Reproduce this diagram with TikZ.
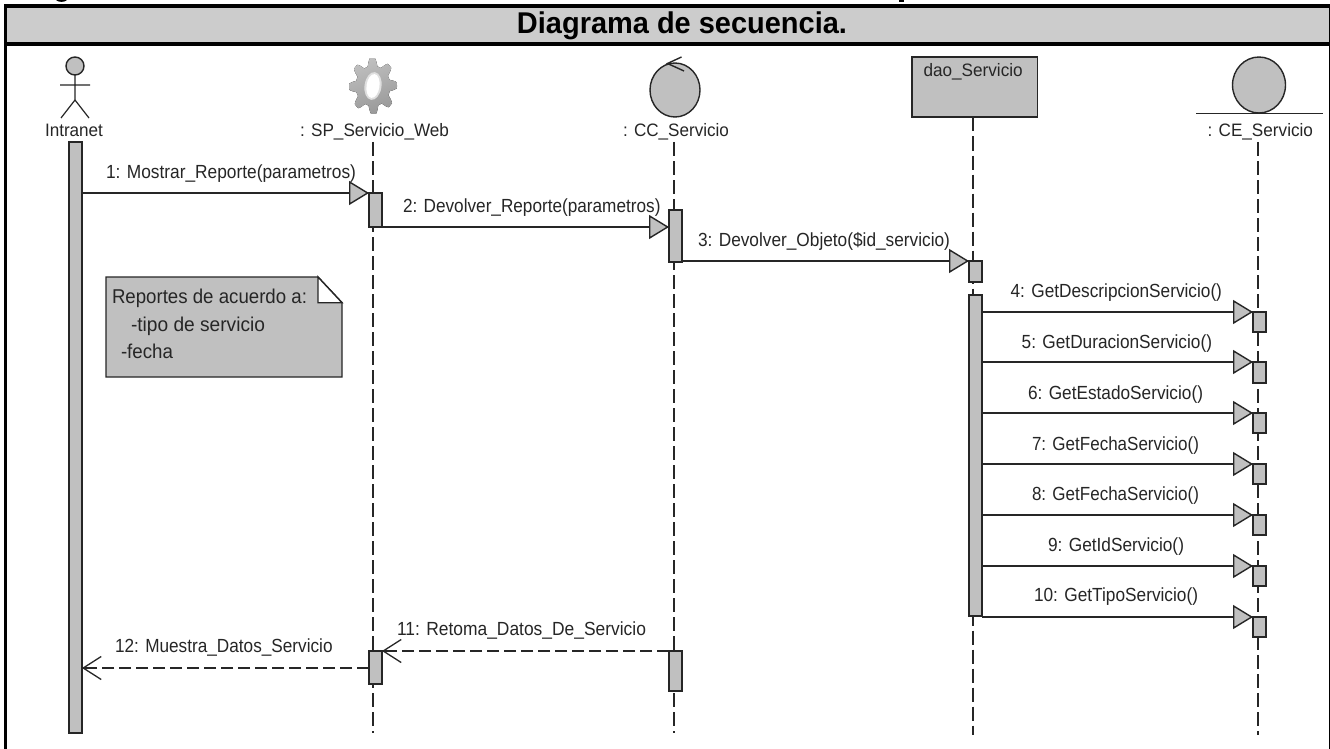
\documentclass[tikz,border=0pt]{standalone}
\usepackage{fontspec}
\usepackage{graphicx}
\setmainfont{Liberation Sans}
\usetikzlibrary{arrows.meta,calc,shapes.geometric}
\definecolor{barfill}{HTML}{C0C0C0}
\definecolor{headfill}{HTML}{CCCCCC}
\definecolor{ink}{HTML}{262626}
\tikzset{
  x=1pt,y=-1pt,
  ink line/.style={draw=ink,line width=1.4pt},
  bar/.style={ink line,fill=barfill,rectangle,inner sep=0pt,outer sep=0pt},
  ball/.style={ink line,fill=barfill,ellipse,inner sep=0pt,outer sep=0pt},
  lifeline/.style={draw=ink,line width=1.3pt,dash pattern=on 14pt off 5pt},
  syncmsg/.style={ink line,-{Triangle[length=20pt,width=24pt,fill=barfill,line width=1.4pt]}},
  retmsg/.style={ink line,dash pattern=on 12pt off 5pt,-{Straight Barb[length=18pt,width=23pt,line width=1.3pt]}},
  lab/.style={inner sep=0pt,outer sep=0pt,anchor=base west,text=ink},
}
% name, x0, x1, baseline, size, text
\newcommand{\lbl}[6]{\pgfmathsetmacro{\lw}{#3-#2}%
  \node[lab] (#1) at (#2,#4) {\resizebox{\lw pt}{\height}{\fontsize{#5}{#5}\selectfont #6}};}
% name, x0, y0, x1, y1
\newcommand{\act}[5]{\pgfmathsetmacro{\aw}{#4-#2}\pgfmathsetmacro{\ah}{#5-#3}%
  \pgfmathsetmacro{\ax}{(#2+#4)/2}\pgfmathsetmacro{\ay}{(#3+#5)/2}%
  \node[bar,minimum width=\aw pt,minimum height=\ah pt] (#1) at (\ax,\ay) {};}
\begin{document}
\begin{tikzpicture}
\useasboundingbox (0,0) rectangle (1330,749);
\fill[white] (0,0) rectangle (1330,749);
% page frame
\fill[headfill] (7,8) rectangle (1329,42);
\fill[black] (4,4) rectangle (1330,8);
\fill[black] (4,42) rectangle (1330,46);
\fill[black] (4,4) rectangle (7,749);
\fill[black] (1328.5,4) rectangle (1330,749);
\fill[black] (56,0) -- (67,0) .. controls (65,2.5) and (58,2.5) .. (56,0) -- cycle;
\fill[black] (899,0) rectangle (903.5,2.3);
\node[inner sep=0pt,anchor=base,font=\bfseries] (title) at (682,33.5) {\resizebox{330pt}{\height}{\fontsize{30}{30}\selectfont Diagrama de secuencia.}};

% lifeline ends
\coordinate (sptop) at (373,142); \coordinate (spend) at (373,733);
\coordinate (cctop) at (674,142); \coordinate (ccend) at (674,733);
\coordinate (datop) at (973,117.5); \coordinate (daend) at (973,735);
\coordinate (cetop) at (1258,142); \coordinate (ceend) at (1258,735);
\draw[lifeline] (sptop) -- (spend);
\draw[lifeline] (cctop) -- (ccend);
\draw[lifeline] (datop) -- (daend);
\draw[lifeline] (cetop) -- (ceend);

% actor
\node[circle,ink line,fill=barfill,minimum size=18pt,inner sep=0pt,outer sep=0pt] (head) at (75,66) {};
\coordinate (hip) at (75,100);
\coordinate (armL) at (60,85); \coordinate (armR) at (90,85);
\coordinate (legL) at (61,118); \coordinate (legR) at (89,118);
\draw[ink line,line width=1.2pt] (head) -- (hip) (armL) -- (armR) (legL) -- (hip) -- (legR);

% gear
\begin{scope}[shift={(373,86)}]
\fill[left color=gray!50,right color=gray!80,shading angle=20]
  plot[domain=0:360,samples=240,smooth] ({24*(0.86+0.14*max(min(1.5*cos(8*\x+12),1),-1))*cos(\x)},{28*(0.86+0.14*max(min(1.5*cos(8*\x+12),1),-1))*sin(\x)}) -- cycle;
\fill[gray!25,rotate around={-8:(0,0)}] (0,0) ellipse [x radius=8.5,y radius=14];
\fill[white,rotate around={-8:(0,0)}] (0,0) ellipse [x radius=6.5,y radius=12];
\end{scope}

% control
\node[ball,minimum width=50pt,minimum height=54pt] (ccball) at (675,90) {};
\coordinate (ccA) at (681.5,57); \coordinate (ccT) at (667.5,63.5); \coordinate (ccB) at (684,71);
\draw[ink line] (ccA) -- (ccT) -- (ccB);

% boundary box
\node[bar,minimum width=125.6pt,minimum height=60pt] (dao) at (974.8,87) {};

% entity
\node[ball,minimum width=53pt,minimum height=56pt] (ceball) at (1259,85) {};
\coordinate (gndL) at (1196,113.5); \coordinate (gndR) at (1322.5,113.5);
\draw[ink line] (gndL) -- (gndR);

% labels of heads
\lbl{lIntra}{45}{103}{136}{18}{Intranet}
\lbl{lSP}{300}{449}{136}{18}{: SP\_Servicio\_Web}
\lbl{lCC}{623}{729}{136}{18}{: CC\_Servicio}
\lbl{lDao}{923.5}{1022.7}{77}{18}{dao\_Servicio}
\lbl{lCE}{1207.5}{1313}{136}{18}{: CE\_Servicio}

% activations
\act{i1}{69}{142}{82}{733}
\act{a1}{369}{193}{382}{227}
\act{a2}{369}{651}{382}{684}
\act{c1}{669}{210}{682}{262}
\act{c2}{669}{651}{682}{691}
\act{d1}{969}{261}{982}{282}
\act{d2}{969}{295}{982}{616}
\act{e4}{1253}{312}{1266}{332}
\act{e5}{1253}{362}{1266}{383}
\act{e6}{1253}{413}{1266}{433}
\act{e7}{1253}{464}{1266}{484}
\act{e8}{1253}{515}{1266}{535}
\act{e9}{1253}{566}{1266}{586}
\act{e10}{1253}{617}{1266}{637}

% messages
\draw[syncmsg] (i1.east |- a1.north) -- (a1.north west);
\draw[syncmsg] (a1.south east) -- (c1.west |- a1.south);
\draw[syncmsg] (c1.south east |- d1.north) -- (d1.north west);
\foreach \e in {e4,e5,e6,e7,e8,e9,e10}{
  \draw[syncmsg] (d2.east |- \e.north) -- (\e.north west);
}
\draw[retmsg] (c2.north west) -- (a2.north east);
\coordinate (m12) at (369,668);
\draw[retmsg] (m12) -- (i1.east |- m12);

% message labels
\lbl{m1}{106}{356}{178}{19}{1: Mostrar\_Reporte(parametros)}
\lbl{m2}{403}{660.5}{212.7}{19}{2: Devolver\_Reporte(parametros)}
\lbl{m3}{698}{950}{246.7}{19}{3: Devolver\_Objeto(\$id\_servicio)}
\lbl{m4}{1010.6}{1222}{297}{19}{4: GetDescripcionServicio()}
\lbl{m5}{1021.7}{1212}{348}{19}{5: GetDuracionServicio()}
\lbl{m6}{1028}{1203}{399}{19}{6: GetEstadoServicio()}
\lbl{m7}{1032}{1199}{450}{19}{7: GetFechaServicio()}
\lbl{m8}{1032}{1199}{500.7}{19}{8: GetFechaServicio()}
\lbl{m9}{1048}{1184}{551}{19}{9: GetIdServicio()}
\lbl{m10}{1034}{1198}{601.7}{19}{10: GetTipoServicio()}
\lbl{m11}{397}{646}{635.7}{19}{11: Retoma\_Datos\_De\_Servicio}
\lbl{m12}{115}{332.6}{652.7}{19}{12: Muestra\_Datos\_Servicio}

% note
\draw[ink line,fill=barfill] (106,277) -- (318,277) -- (342,302.7) -- (342,377) -- (106,377) -- cycle;
\draw[ink line,fill=white] (318,277) -- (342,302.7) -- (318,302.7) -- cycle;
\lbl{n1}{112}{307}{303}{20}{Reportes de acuerdo a:}
\lbl{n2}{131}{265}{331}{20}{-tipo de servicio}
\lbl{n3}{121}{173}{358}{20}{-fecha}
\end{tikzpicture}
\end{document}
